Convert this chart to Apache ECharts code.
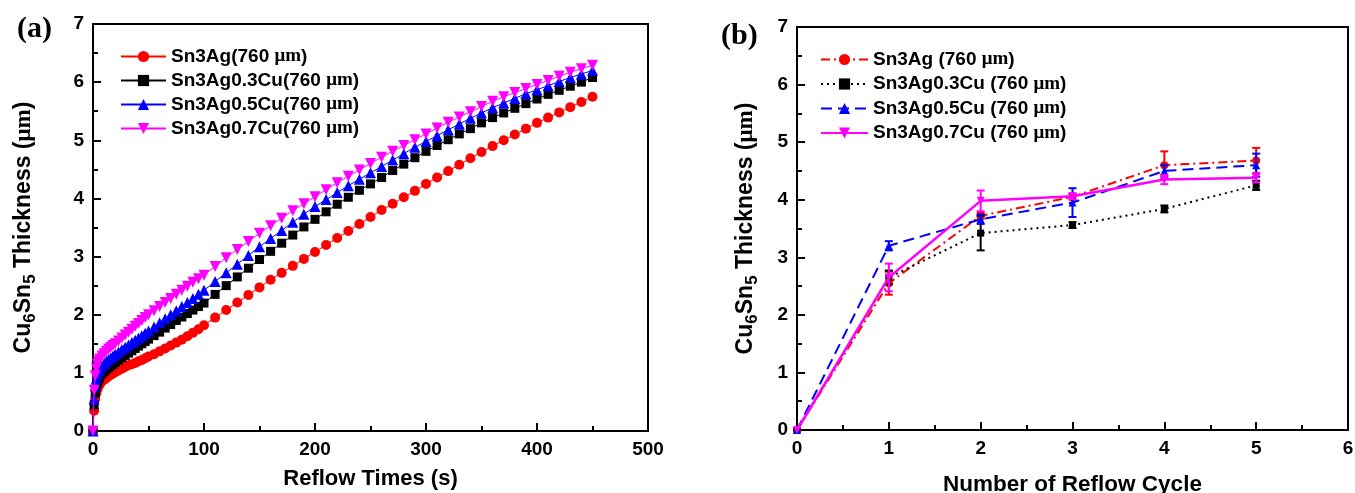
<!DOCTYPE html>
<html>
<head>
<meta charset="utf-8">
<script src="https://cdn.jsdelivr.net/npm/echarts@6/dist/echarts.min.js"></script>
<style>html,body{margin:0;padding:0;background:#fff}#c{width:1355px;height:493px}</style>
</head>
<body>
<div id="c"></div>
<script>
// ---------- Panel (a): thickness vs reflow time ----------
const timesA = [0,1,2,3,4,5,6,8,10,12,14,16,18,20,23,26,29,32,35,38,41,44,47,50,55,60,65,70,75,80,85,90,95,100,110,120,130,140,150,160,170,180,190,200,210,220,230,240,250,260,270,280,290,300,310,320,330,340,350,360,370,380,390,400,410,420,430,440,450];
const sn3ag_a = [0,0.35,0.55,0.65,0.72,0.77,0.8,0.85,0.88,0.91,0.94,0.97,0.99,1.01,1.04,1.07,1.1,1.13,1.15,1.17,1.2,1.22,1.25,1.28,1.32,1.37,1.42,1.47,1.52,1.57,1.63,1.69,1.75,1.82,1.95,2.08,2.21,2.34,2.47,2.6,2.72,2.84,2.96,3.08,3.2,3.32,3.44,3.56,3.68,3.8,3.91,4.02,4.13,4.25,4.36,4.47,4.58,4.69,4.8,4.9,5.0,5.1,5.2,5.3,5.39,5.48,5.57,5.66,5.75];
const sn3ag03_a = [0,0.45,0.65,0.76,0.83,0.88,0.92,0.98,1.02,1.06,1.09,1.12,1.15,1.18,1.22,1.26,1.3,1.34,1.38,1.42,1.46,1.5,1.54,1.58,1.64,1.7,1.77,1.83,1.9,1.96,2.02,2.08,2.14,2.2,2.35,2.5,2.65,2.8,2.95,3.09,3.23,3.37,3.51,3.64,3.77,3.9,4.02,4.14,4.25,4.36,4.48,4.59,4.7,4.81,4.91,5.01,5.11,5.2,5.3,5.39,5.47,5.55,5.63,5.71,5.79,5.86,5.93,6.0,6.08];
const sn3ag05_a = [0,0.55,0.78,0.9,0.98,1.03,1.07,1.12,1.16,1.2,1.23,1.26,1.29,1.32,1.36,1.4,1.44,1.48,1.52,1.56,1.6,1.64,1.68,1.72,1.79,1.86,1.93,2.0,2.07,2.14,2.21,2.28,2.35,2.42,2.57,2.72,2.87,3.02,3.17,3.31,3.45,3.59,3.73,3.86,3.98,4.1,4.22,4.33,4.44,4.55,4.66,4.77,4.88,4.98,5.08,5.18,5.28,5.38,5.47,5.56,5.64,5.72,5.8,5.87,5.94,6.01,6.08,6.14,6.2];
const sn3ag07_a = [0,0.7,0.95,1.07,1.15,1.2,1.24,1.29,1.33,1.37,1.41,1.44,1.47,1.5,1.55,1.6,1.65,1.7,1.75,1.8,1.85,1.9,1.95,2.0,2.07,2.14,2.21,2.28,2.35,2.42,2.49,2.56,2.62,2.68,2.83,2.98,3.12,3.26,3.4,3.53,3.66,3.79,3.91,4.03,4.15,4.27,4.38,4.49,4.6,4.71,4.81,4.91,5.01,5.11,5.21,5.31,5.4,5.49,5.58,5.67,5.75,5.82,5.89,5.96,6.03,6.1,6.17,6.23,6.29];
const namesA = ['Sn3Ag(760 μm)','Sn3Ag0.3Cu(760 μm)','Sn3Ag0.5Cu(760 μm)','Sn3Ag0.7Cu(760 μm)'];

// ---------- Panel (b): thickness vs number of reflow cycles ----------
const cyclesB = [0,1,2,3,4,5];
const sn3ag_b = [0,2.55,3.72,4.05,4.6,4.68];
const sn3ag_b_err = [0,0.2,0.05,0.05,0.24,0.22];
const sn3ag03_b = [0,2.65,3.42,3.56,3.84,4.25];
const sn3ag03_b_err = [0,0.12,0.3,0.05,0.06,0.08];
const sn3ag05_b = [0,3.2,3.66,3.95,4.5,4.6];
const sn3ag05_b_err = [0,0.08,0.08,0.25,0.1,0.2];
const sn3ag07_b = [0,2.65,3.98,4.06,4.35,4.38];
const sn3ag07_b_err = [0,0.24,0.18,0.05,0.08,0.08];
const namesB = ['Sn3Ag (760 μm)','Sn3Ag0.3Cu (760 μm)','Sn3Ag0.5Cu (760 μm)','Sn3Ag0.7Cu (760 μm)'];

const colors = ['#ff0000','#000000','#0000ff','#ff00ff'];
const FONT = 'Liberation Sans, Arial, sans-serif';
const SERIF = 'Liberation Serif, Times New Roman, serif';

const chart = echarts.init(document.getElementById('c'), null, {renderer:'canvas'});

function pair(xs, ys){ return xs.map((x,i)=>[x, ys[i]]); }
function errData(xs, ys, es){ return xs.map((x,i)=>[x, ys[i], es[i]]).filter(d=>d[2]>0); }

const yName = '{n|Cu}{s|6}{n|Sn}{s|5}{n| Thickness (}{m|μm}{n|)}';
const nameRich = {
  n:{fontFamily:FONT,fontWeight:'bold',fontSize:23,color:'#000',lineHeight:28,verticalAlign:'middle'},
  s:{fontFamily:FONT,fontWeight:'bold',fontSize:17,color:'#000',lineHeight:28,padding:[13,0,0,0],verticalAlign:'middle'},
  m:{fontFamily:SERIF,fontWeight:'bold',fontSize:23,color:'#000',lineHeight:28,verticalAlign:'middle'}
};
const legRich = {
  a:{fontFamily:FONT,fontWeight:'bold',fontSize:19,color:'#000'},
  m:{fontFamily:SERIF,fontWeight:'bold',fontSize:19,color:'#000'}
};
function legFmt(name){ const p = name.split('μm'); return '{a|'+p[0]+'}{m|μm}{a|'+p[1]+'}'; }

function axisCommon(){
  return {
    axisLine:{show:true,onZero:false,lineStyle:{color:'#000',width:2}},
    axisTick:{show:true,inside:true,length:8,lineStyle:{color:'#000',width:2}},
    minorTick:{show:true,splitNumber:2,length:5,lineStyle:{color:'#000',width:2}},
    splitLine:{show:false},
    axisLabel:{color:'#000',fontFamily:FONT,fontWeight:'bold',fontSize:19,margin:9},
    nameLocation:'middle'
  };
}
const seriesA = [
  {data:sn3ag_a, sym:'circle', size:10, rot:0},
  {data:sn3ag03_a, sym:'rect', size:9, rot:0},
  {data:sn3ag05_a, sym:'triangle', size:11, rot:0},
  {data:sn3ag07_a, sym:'triangle', size:11, rot:180}
].map((s,i)=>({
  type:'line', name:namesA[i], xAxisIndex:0, yAxisIndex:0,
  data:pair(timesA, s.data), symbol:s.sym, symbolSize:s.size, symbolRotate:s.rot,
  showAllSymbol:true, smooth:false,
  lineStyle:{color:colors[i],width:1},
  itemStyle:{color:colors[i]},
  emphasis:{disabled:true}, animation:false, z:2+i
}));

const lineTypesB = [[9,4,2,4],[2,4],[11,6],'solid'];
const symB = [['circle',0],['rect',0],['triangle',0],['triangle',180]];
const valsB = [sn3ag_b, sn3ag03_b, sn3ag05_b, sn3ag07_b];
const errsB = [sn3ag_b_err, sn3ag03_b_err, sn3ag05_b_err, sn3ag07_b_err];
const seriesB = [];
valsB.forEach((v,i)=>{
  seriesB.push({
    type:'line', name:namesB[i], xAxisIndex:1, yAxisIndex:1,
    data:pair(cyclesB, v), symbol:symB[i][0], symbolRotate:symB[i][1], symbolSize:i===1?7:8,
    lineStyle:{color:colors[i],width:i===3?2.5:2,type:lineTypesB[i]},
    itemStyle:{color:colors[i]},
    emphasis:{disabled:true}, animation:false, z:3+i
  });
  seriesB.push({
    type:'custom', name:namesB[i]+'_err', xAxisIndex:1, yAxisIndex:1,
    data:errData(cyclesB, v, errsB[i]), animation:false, z:3+i,
    renderItem:function(params, api){
      const x = api.value(0), y = api.value(1), e = api.value(2);
      const t = api.coord([x, y+e]), b = api.coord([x, y-e]);
      const w = 4;
      const st = {stroke:colors[i], lineWidth:2};
      return {type:'group', children:[
        {type:'line', shape:{x1:t[0],y1:t[1],x2:b[0],y2:b[1]}, style:st},
        {type:'line', shape:{x1:t[0]-w,y1:t[1],x2:t[0]+w,y2:t[1]}, style:st},
        {type:'line', shape:{x1:b[0]-w,y1:b[1],x2:b[0]+w,y2:b[1]}, style:st}
      ]};
    }
  });
});

const option = {
  backgroundColor:'#fff',
  animation:false,
  grid:[
    {left:93, right:707, top:24, bottom:62, show:true, borderColor:'#000', borderWidth:2, backgroundColor:'transparent', containLabel:false, outerBoundsMode:'none'},
    {left:797, right:7, top:27, bottom:63, show:true, borderColor:'#000', borderWidth:2, backgroundColor:'transparent', containLabel:false, outerBoundsMode:'none'}
  ],
  legend:[
    {data:namesA, orient:'vertical', left:115, top:42, itemWidth:45, itemHeight:14, itemGap:5,
     formatter:legFmt, textStyle:{rich:legRich}, selectedMode:false},
    {data:namesB, orient:'vertical', left:815, top:45, itemWidth:47, itemHeight:14, itemGap:5.5,
     formatter:legFmt, textStyle:{rich:legRich}, selectedMode:false}
  ],
  xAxis:[
    Object.assign(axisCommon(), {type:'value', gridIndex:0, min:0, max:500, interval:100,
      name:'Reflow Times (s)', nameGap:37,
      nameTextStyle:{fontFamily:FONT,fontWeight:'bold',fontSize:22,color:'#000'}}),
    Object.assign(axisCommon(), {type:'value', gridIndex:1, min:0, max:6, interval:1,
      name:'Number of Reflow Cycle', nameGap:43,
      nameTextStyle:{fontFamily:FONT,fontWeight:'bold',fontSize:22.5,color:'#000'}})
  ],
  yAxis:[
    Object.assign(axisCommon(), {type:'value', gridIndex:0, min:0, max:7, interval:1,
      name:yName, nameGap:55, nameTextStyle:{rich:nameRich}}),
    Object.assign(axisCommon(), {type:'value', gridIndex:1, min:0, max:7, interval:1,
      name:yName, nameGap:37, nameTextStyle:{rich:nameRich}})
  ],
  graphic:[
    {type:'text', left:17, top:14, style:{text:'(a)', font:'bold 30px "Liberation Serif", serif', fill:'#000'}},
    {type:'text', left:721, top:21, style:{text:'(b)', font:'bold 30px "Liberation Serif", serif', fill:'#000'}}
  ],
  series: seriesA.concat(seriesB)
};
chart.setOption(option);
</script>
</body>
</html>
